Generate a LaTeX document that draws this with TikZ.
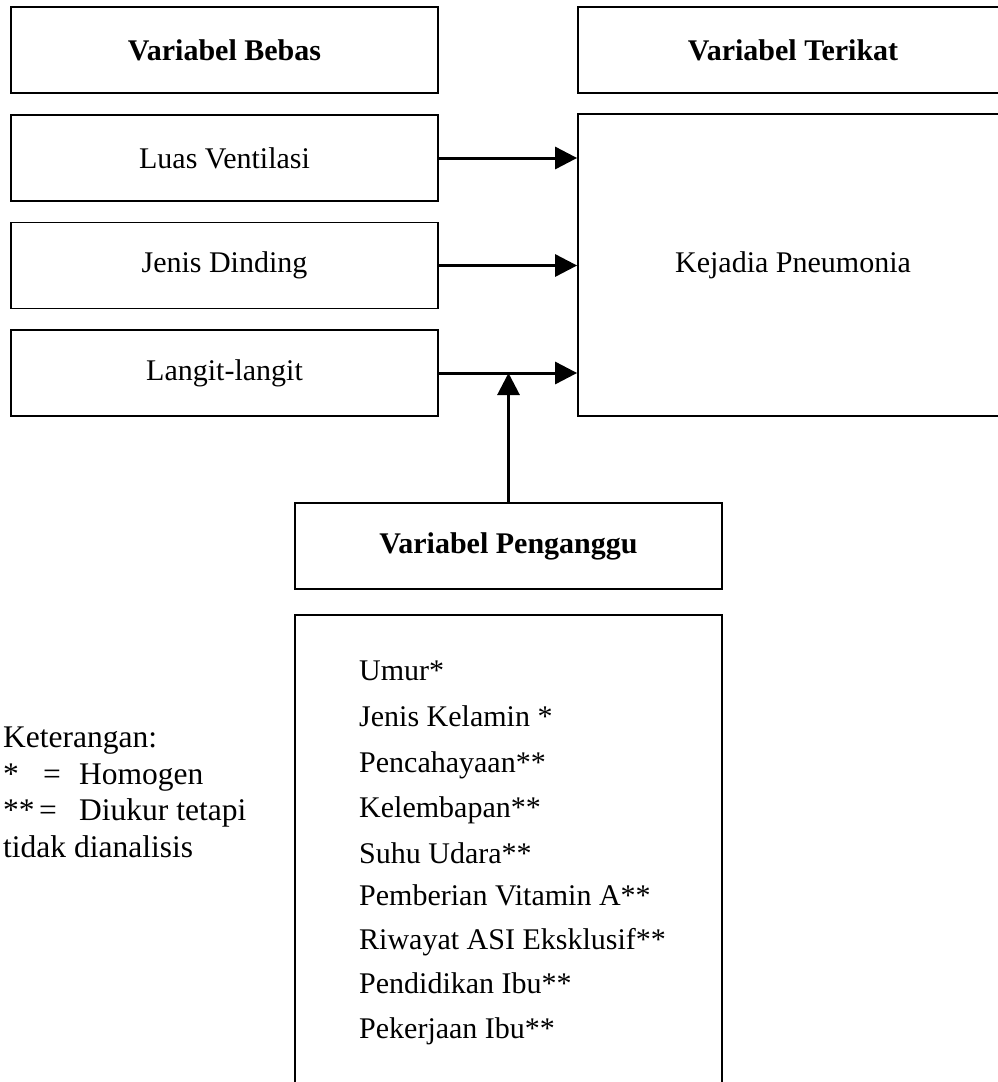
\documentclass[tikz,border=0pt]{standalone}
\usepackage{fontspec}
\setmainfont{Liberation Serif}
\usetikzlibrary{arrows.meta}
\begin{document}
\begin{tikzpicture}[x=1pt,y=-1pt,
  box/.style={draw=black, line width=1.8pt, inner sep=0pt, font=\fontsize{30}{36}\selectfont},
  hdr/.style={box, font=\fontsize{30}{36}\selectfont\bfseries},
  item/.style={anchor=base west, inner sep=0pt, font=\fontsize{30}{36}\selectfont},
  leg/.style={anchor=base west, inner sep=0pt, font=\fontsize{31.5}{36}\selectfont},
  arr/.style={line width=3pt, -{Triangle[length=22pt,width=22pt]}}]
\useasboundingbox (0,0) rectangle (998,1082);
\clip (0,0) rectangle (998,1082);
% left column
\node[hdr, minimum width=427pt, minimum height=86pt] (bebas) at (224.5,50) {Variabel Bebas};
\node[box, minimum width=427pt, minimum height=86pt] (luas) at (224.5,158) {Luas Ventilasi};
\node[box, minimum width=427pt, minimum height=86pt] (jenis) at (224.5,265.5) {Jenis Dinding};
\node[box, minimum width=427pt, minimum height=86pt] (langit) at (224.5,373) {Langit-langit};
% right column
\node[hdr, minimum width=430pt, minimum height=86pt] (terikat) at (793,50) {Variabel Terikat};
\node[box, minimum width=430pt, minimum height=302pt] (kej) at (793,265) {Kejadia Pneumonia};
% confounders
\node[hdr, minimum width=427pt, minimum height=86pt] (peng) at (508.5,546) {Variabel Penganggu};
\node[box, minimum width=427pt, minimum height=520pt, anchor=north] (list) at (508.5,614) {};
\node[item] (i1) at (359,680) {Umur*};
\node[item] (i2) at (359,726) {Jenis Kelamin *};
\node[item] (i3) at (359,772) {Pencahayaan**};
\node[item] (i4) at (359,817) {Kelembapan**};
\node[item] (i5) at (359,863) {Suhu Udara**};
\node[item] (i6) at (359,905) {Pemberian Vitamin A**};
\node[item] (i7) at (359,949) {Riwayat ASI Eksklusif**};
\node[item] (i8) at (359,993) {Pendidikan Ibu**};
\node[item] (i9) at (359,1038) {Pekerjaan Ibu**};
% legend
\node[leg] (k0) at (3,747) {Keterangan:};
\node[leg] (k1s) at (3,784) {*};
\node[leg] (k1e) at (43,784) {=};
\node[leg] (k1t) at (79,784) {Homogen};
\node[leg] (k2s) at (3,820) {**};
\node[leg] (k2e) at (39,820) {=};
\node[leg] (k2t) at (79,820) {Diukur tetapi};
\node[leg] (k3) at (3,857) {tidak dianalisis};
% arrows
\draw[arr] (luas.east) -- (kej.west |- luas.east);
\draw[arr] (jenis.east) -- (kej.west |- jenis.east);
\draw[arr] (langit.east) -- (kej.west |- langit.east);
\draw[arr] (peng.north) -- (peng.north |- langit.east);
\end{tikzpicture}
\end{document}
